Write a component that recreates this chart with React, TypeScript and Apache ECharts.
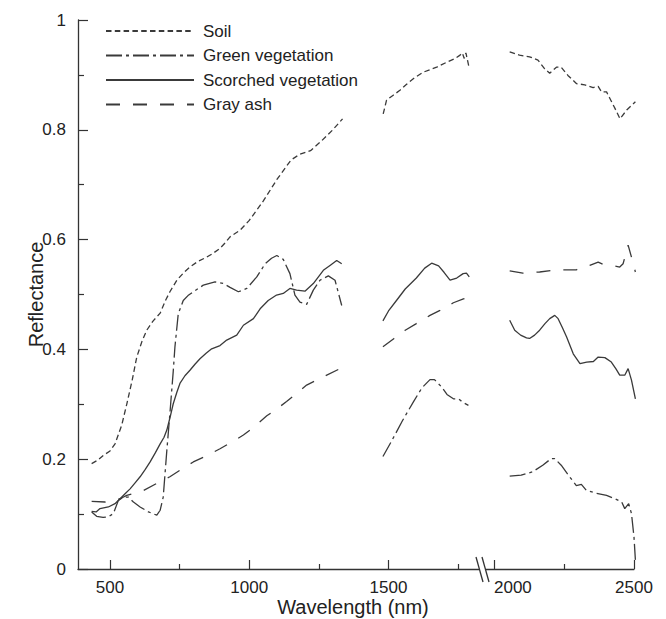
import React, { useEffect, useRef } from 'react';
import * as echarts from 'echarts';

// wavelength (nm), reflectance
const soilLeft = [[434,0.192],[455,0.198],[476,0.207],[500,0.215],[518,0.228],[530,0.245],[542,0.262],[560,0.300],[580,0.345],[596,0.386],[615,0.415],[632,0.435],[655,0.452],[680,0.466],[700,0.49],[715,0.505],[740,0.526],[765,0.540],[787,0.550],[815,0.560],[847,0.568],[870,0.575],[895,0.584],[915,0.595],[931,0.605],[967,0.617],[1000,0.635],[1050,0.67],[1100,0.71],[1150,0.745],[1180,0.755],[1220,0.762],[1260,0.78],[1300,0.80],[1335,0.82]];
const soilMid = [[1481,0.829],[1493,0.854],[1517,0.863],[1541,0.872],[1565,0.883],[1589,0.893],[1625,0.905],[1673,0.914],[1709,0.923],[1740,0.93],[1757,0.936],[1765,0.94],[1772,0.93],[1778,0.94],[1790,0.912]];
const soilRight = [[2056,0.942],[2091,0.936],[2127,0.933],[2157,0.927],[2181,0.911],[2199,0.903],[2223,0.914],[2240,0.914],[2264,0.899],[2295,0.884],[2324,0.882],[2354,0.877],[2372,0.879],[2384,0.869],[2402,0.869],[2414,0.857],[2432,0.839],[2450,0.820],[2474,0.836],[2505,0.851]];

const greenLeft = [[434,0.104],[452,0.096],[475,0.094],[494,0.095],[512,0.101],[530,0.125],[548,0.131],[566,0.131],[584,0.122],[608,0.113],[638,0.104],[668,0.098],[680,0.107],[691,0.131],[704,0.216],[715,0.283],[727,0.36],[733,0.404],[745,0.465],[763,0.489],[780,0.498],[799,0.505],[835,0.517],[877,0.523],[907,0.520],[931,0.513],[961,0.505],[991,0.511],[1027,0.532],[1057,0.556],[1080,0.566],[1099,0.571],[1122,0.564],[1146,0.538],[1164,0.499],[1182,0.486],[1206,0.482],[1230,0.508],[1254,0.526],[1284,0.534],[1308,0.526],[1332,0.480]];
const greenMid = [[1480,0.205],[1510,0.232],[1550,0.27],[1590,0.305],[1620,0.33],[1649,0.345],[1665,0.345],[1690,0.332],[1710,0.318],[1733,0.31],[1751,0.31],[1769,0.303],[1787,0.298]];
const greenRight = [[2056,0.169],[2097,0.171],[2138,0.177],[2174,0.189],[2204,0.201],[2217,0.201],[2240,0.189],[2270,0.168],[2294,0.152],[2312,0.154],[2330,0.143],[2366,0.138],[2402,0.134],[2432,0.128],[2456,0.122],[2467,0.110],[2481,0.119],[2491,0.101],[2500,0.058],[2505,0.016]];

const scorchedLeft = [[434,0.105],[450,0.104],[464,0.110],[494,0.113],[518,0.119],[536,0.128],[554,0.137],[572,0.146],[590,0.157],[608,0.168],[626,0.181],[644,0.195],[662,0.211],[680,0.228],[694,0.240],[704,0.253],[715,0.275],[727,0.301],[740,0.322],[751,0.338],[769,0.352],[787,0.362],[805,0.373],[823,0.383],[845,0.393],[865,0.401],[895,0.407],[919,0.417],[955,0.426],[979,0.444],[1015,0.456],[1039,0.474],[1068,0.489],[1098,0.499],[1122,0.502],[1146,0.511],[1170,0.508],[1200,0.506],[1230,0.520],[1266,0.544],[1290,0.553],[1314,0.562],[1332,0.556]];
const scorchedMid = [[1480,0.452],[1500,0.47],[1530,0.49],[1560,0.51],[1600,0.53],[1630,0.548],[1655,0.557],[1680,0.552],[1700,0.54],[1721,0.526],[1745,0.53],[1768,0.538],[1780,0.539],[1790,0.532]];
const scorchedRight = [[2056,0.453],[2074,0.435],[2095,0.426],[2116,0.421],[2127,0.420],[2145,0.426],[2163,0.435],[2182,0.447],[2199,0.456],[2217,0.462],[2229,0.456],[2244,0.44],[2259,0.423],[2283,0.392],[2307,0.374],[2331,0.377],[2355,0.378],[2372,0.386],[2396,0.385],[2419,0.377],[2435,0.365],[2449,0.353],[2467,0.353],[2479,0.365],[2491,0.344],[2505,0.310]];

const ashLeft = [[434,0.123],[482,0.122],[536,0.128],[560,0.134],[620,0.143],[668,0.156],[715,0.168],[751,0.180],[799,0.195],[850,0.207],[895,0.219],[940,0.232],[979,0.244],[1003,0.253],[1063,0.279],[1100,0.292],[1134,0.305],[1170,0.32],[1206,0.335],[1266,0.350],[1326,0.365]];
const ashMid = [[1480,0.405],[1520,0.42],[1560,0.435],[1600,0.447],[1649,0.462],[1685,0.471],[1733,0.485],[1769,0.492],[1790,0.495]];
const ashRight = [[2056,0.543],[2103,0.539],[2163,0.541],[2222,0.545],[2294,0.545],[2342,0.553],[2372,0.559],[2389,0.555],[2419,0.553],[2449,0.550],[2461,0.556],[2479,0.590],[2491,0.568],[2505,0.541]];

const seriesNames = ['Soil', 'Green vegetation', 'Scorched vegetation', 'Gray ash'];
const leftMajorTicks = [500, 1000, 1500];
const leftMinorTicks = [750, 1250, 1750];
const rightMajorTicks = [2000, 2500];
const rightMinorTicks = [2250];

const FONT = "'Liberation Sans', Arial, Helvetica, sans-serif";
const INK = '#333';
const LINE = '#3a3a3a';

const dashes: Record<string, any> = {
  'Soil': [5.5, 3.3],
  'Green vegetation': [16, 4, 3, 4],
  'Scorched vegetation': 'solid',
  'Gray ash': [14, 13],
};

const plain = (v: number) => String(v);

function seg(name: string, data: number[][], grid: number) {
  return {
    type: 'line',
    name,
    data,
    xAxisIndex: grid === 0 ? 0 : 2,
    yAxisIndex: grid,
    symbol: 'none',
    showSymbol: false,
    clip: false,
    silent: true,
    lineStyle: { color: LINE, width: 1.3, type: dashes[name] },
    itemStyle: { color: LINE, opacity: 0 },
    emphasis: { disabled: true },
  };
}

export default function App() {
  const ref = useRef<HTMLDivElement>(null);
  useEffect(() => {
    const chart = echarts.init(ref.current!, null, { renderer: 'svg' });
    const axisCommon = {
      splitLine: { show: false },
      axisLine: { show: true, lineStyle: { color: INK, width: 1.3 } },
    };
    const xLabel = { fontSize: 17, color: '#222', margin: 11.5, lineHeight: 13, fontFamily: FONT, formatter: plain };
    chart.setOption({
      animation: false,
      backgroundColor: '#fff',
      textStyle: { fontFamily: FONT },
      grid: [
        { left: 78, top: 20, width: 401, height: 549 },
        { left: 486, top: 20, width: 148, height: 549 },
      ],
      legend: {
        data: seriesNames,
        orient: 'vertical',
        left: 105,
        top: 22.5,
        padding: 0,
        itemWidth: 88,
        itemHeight: 14,
        itemGap: 7.5,
        selectedMode: false,
        itemStyle: { opacity: 0 },
        textStyle: { fontSize: 17, color: '#222', fontFamily: FONT, lineHeight: 17, padding: [0, 0, 0, 4] },
      },
      xAxis: [
        {
          type: 'value', gridIndex: 0, min: 385, max: 1825, position: 'bottom',
          ...axisCommon,
          axisTick: { show: true, inside: true, length: 9, customValues: leftMajorTicks, lineStyle: { color: INK, width: 1.2 } },
          axisLabel: { show: true, customValues: leftMajorTicks, ...xLabel },
        },
        {
          type: 'value', gridIndex: 0, min: 385, max: 1825, position: 'bottom',
          splitLine: { show: false },
          axisLine: { show: false },
          axisTick: { show: true, inside: true, length: 5, customValues: leftMinorTicks, lineStyle: { color: INK, width: 1.2 } },
          axisLabel: { show: false },
        },
        {
          type: 'value', gridIndex: 1, min: 1971.4, max: 2500, position: 'bottom',
          ...axisCommon,
          axisTick: { show: true, inside: true, length: 9, customValues: rightMajorTicks, lineStyle: { color: INK, width: 1.2 } },
          axisLabel: { show: true, customValues: [2500], ...xLabel },
        },
        {
          type: 'value', gridIndex: 1, min: 1971.4, max: 2500, position: 'bottom',
          splitLine: { show: false },
          axisLine: { show: false },
          axisTick: { show: true, inside: true, length: 5, customValues: rightMinorTicks, lineStyle: { color: INK, width: 1.2 } },
          axisLabel: { show: true, customValues: [2000], align: 'left', ...xLabel },
        },
      ],
      yAxis: [
        {
          type: 'value', gridIndex: 0, min: 0, max: 1, interval: 0.2,
          name: 'Reflectance', nameLocation: 'middle', nameGap: 32, nameMoveOverlap: false,
          nameTextStyle: { fontSize: 20, color: '#222', fontFamily: FONT },
          ...axisCommon,
          axisTick: { show: true, inside: true, length: 10, lineStyle: { color: INK, width: 1.2 } },
          minorTick: { show: true, splitNumber: 2, length: 6, lineStyle: { color: INK, width: 1.2 } },
          axisLabel: { fontSize: 17, color: '#222', margin: 12, fontFamily: FONT },
        },
        { type: 'value', gridIndex: 1, min: 0, max: 1, show: false },
      ],
      graphic: [
        { type: 'text', x: 353, y: 606.5, style: { text: 'Wavelength (nm)', fontSize: 20, fill: '#222', fontFamily: FONT, align: 'center', verticalAlign: 'middle' } },
        { type: 'line', shape: { x1: 476, y1: 557, x2: 483, y2: 582 }, style: { stroke: INK, lineWidth: 1.3 } },
        { type: 'line', shape: { x1: 482, y1: 557, x2: 489, y2: 582 }, style: { stroke: INK, lineWidth: 1.3 } },
      ],
      series: [
        seg('Soil', soilLeft, 0), seg('Soil', soilMid, 0), seg('Soil', soilRight, 1),
        seg('Green vegetation', greenLeft, 0), seg('Green vegetation', greenMid, 0), seg('Green vegetation', greenRight, 1),
        seg('Scorched vegetation', scorchedLeft, 0), seg('Scorched vegetation', scorchedMid, 0), seg('Scorched vegetation', scorchedRight, 1),
        seg('Gray ash', ashLeft, 0), seg('Gray ash', ashMid, 0), seg('Gray ash', ashRight, 1),
      ],
    });
    return () => chart.dispose();
  }, []);
  return <div ref={ref} style={{ position: 'fixed', left: 0, top: 0, width: 666, height: 619, background: '#fff' }} />;
}
